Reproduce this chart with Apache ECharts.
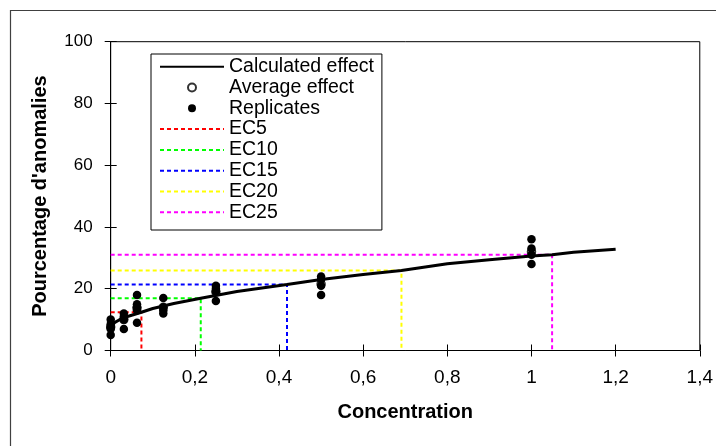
<!DOCTYPE html>
<html>
<head>
<meta charset="utf-8">
<script src="https://cdn.jsdelivr.net/npm/echarts@6/dist/echarts.min.js"></script>
<style>html,body{margin:0;padding:0;background:#fff}#c{width:716px;height:446px}</style>
</head>
<body>
<div id="c"></div>
<script>
// ---- data ----
const concentrations = [0, 0.03125, 0.0625, 0.125, 0.25, 0.5, 1];
const replicates = [
  [10, 8.5, 7.5, 7, 5],
  [12, 11, 10, 7],
  [18, 15, 14, 13, 9],
  [17, 14, 13, 12],
  [21, 20, 19, 16],
  [24, 23, 21, 18],
  [36, 33, 31, 28]
];
const averageEffect = [7.6, 10, 13.8, 14, 19, 21.5, 32];
const calcX = [0, 0.01, 0.02, 0.04, 0.073, 0.1, 0.15, 0.214, 0.3, 0.419, 0.5, 0.6, 0.691, 0.8, 0.9, 1.0, 1.049, 1.1, 1.2];
const calcY = [7.8, 9.1, 9.9, 11.0, 12.4, 13.6, 15.2, 16.9, 19.1, 21.4, 23.0, 24.6, 25.9, 28.1, 29.4, 30.6, 31.0, 31.8, 32.8];
const ecNames = ['EC5', 'EC10', 'EC15', 'EC20', 'EC25'];
const ecConc = [0.073, 0.214, 0.419, 0.691, 1.049];
const ecEffect = [12.4, 16.9, 21.4, 25.9, 31.0];
const xTickLabels = ['0', '0,2', '0,4', '0,6', '0,8', '1', '1,2', '1,4'];
const yTickLabels = ['0', '20', '40', '60', '80', '100'];
const ecColors = ['#FF0000', '#00FF00', '#0000FF', '#FFFF00', '#FF00FF'];

const FONT = '"Liberation Sans", Arial, sans-serif';

const replicatePoints = [];
concentrations.forEach((c, i) => replicates[i].forEach(v => replicatePoints.push([c, v])));
const averagePoints = concentrations.map((c, i) => [c, averageEffect[i]]);
const calcPoints = calcX.map((x, i) => [x, calcY[i]]);

const ecSeries = ecNames.map((n, i) => ({
  name: n, type: 'line', xAxisIndex: 0, yAxisIndex: 0,
  data: [[0, ecEffect[i]], [ecConc[i], ecEffect[i]], [ecConc[i], 0]],
  symbol: 'none', z: 2, silent: true,
  lineStyle: { color: ecColors[i], width: 2, type: [4, 3] },
  itemStyle: { color: ecColors[i] }
}));

const xFmt = v => xTickLabels[Math.round(v / 0.2)];
const yFmt = v => yTickLabels[Math.round(v / 20)];

const lineLegend = n => ({ name: n, itemStyle: { opacity: 0 } });

const chart = echarts.init(document.getElementById('c'), null, { renderer: 'canvas' });
chart.setOption({
  animation: false,
  backgroundColor: '#fff',
  grid: { left: 110.7, top: 41.7, right: 13.7, bottom: 95.5, show: true, borderColor: '#000', borderWidth: 1, backgroundColor: 'transparent' },
  graphic: [{
    type: 'rect', left: 8, top: 8, z: -1, silent: true,
    shape: { x: 0, y: 0, width: 760, height: 480 },
    style: { fill: 'none', stroke: '#404040', lineWidth: 1.2 }
  }],
  xAxis: [{
    type: 'value', min: 0, max: 1.4, interval: 0.2, position: 'bottom',
    name: 'Concentration', nameLocation: 'middle', nameGap: 52,
    nameTextStyle: { fontFamily: FONT, fontWeight: 'bold', fontSize: 20, color: '#000' },
    axisLine: { show: true, onZero: false, lineStyle: { color: '#000', width: 1 } },
    axisTick: { show: true, length: 6, lineStyle: { color: '#000' } },
    axisLabel: { formatter: xFmt, fontFamily: FONT, fontSize: 19, color: '#000', margin: 18 },
    splitLine: { show: false }
  }, {
    type: 'value', min: 0, max: 1.4, interval: 0.2, position: 'bottom',
    axisLine: { show: false },
    axisTick: { show: true, inside: true, length: 6, lineStyle: { color: '#000' } },
    axisLabel: { show: false }, splitLine: { show: false }
  }],
  yAxis: [{
    type: 'value', min: 0, max: 100, interval: 20, position: 'left',
    name: "Pourcentage d'anomalies", nameLocation: 'middle', nameGap: 60,
    nameTextStyle: { fontFamily: FONT, fontWeight: 'bold', fontSize: 20, color: '#000' },
    axisLine: { show: true, onZero: false, lineStyle: { color: '#000', width: 1 } },
    axisTick: { show: true, length: 6, lineStyle: { color: '#000' } },
    axisLabel: { formatter: yFmt, fontFamily: FONT, fontSize: 17, color: '#000', margin: 18 },
    splitLine: { show: false }
  }, {
    type: 'value', min: 0, max: 100, interval: 20, position: 'left',
    axisLine: { show: false },
    axisTick: { show: true, inside: true, length: 6, lineStyle: { color: '#000' } },
    axisLabel: { show: false }, splitLine: { show: false }
  }],
  legend: {
    orient: 'vertical', left: 151, top: 54,
    padding: [2.3, 8, 7.3, 8],
    backgroundColor: '#fff', borderColor: '#000', borderWidth: 1,
    itemWidth: 64, itemHeight: 8, itemGap: 0,
    selectedMode: false,
    textStyle: { fontFamily: FONT, fontSize: 19.5, color: '#000', lineHeight: 20.8, padding: [0, 0, 0, 0] },
    data: [lineLegend('Calculated effect'), 'Average effect', 'Replicates'].concat(ecNames.map(lineLegend))
  },
  series: [{
    name: 'Calculated effect', type: 'line', data: calcPoints,
    symbol: 'none', z: 3, silent: true,
    lineStyle: { color: '#000', width: 3 }, itemStyle: { color: '#000' }
  }, {
    name: 'Average effect', type: 'scatter', data: averagePoints,
    symbol: 'circle', symbolSize: 8, z: 4, clip: false, silent: true,
    itemStyle: { color: '#fff', borderColor: '#000', borderWidth: 1.5 }
  }, {
    name: 'Replicates', type: 'scatter', data: replicatePoints,
    symbol: 'circle', symbolSize: 8.5, z: 5, clip: false, silent: true,
    itemStyle: { color: '#000', opacity: 1 }
  }].concat(ecSeries)
});
</script>
</body>
</html>
